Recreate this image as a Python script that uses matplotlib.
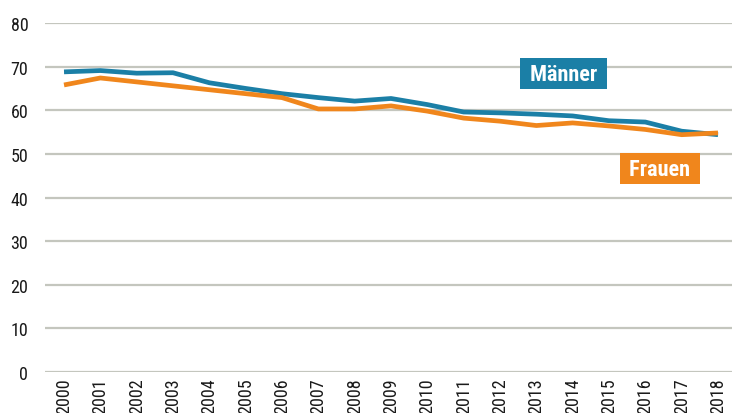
import matplotlib
matplotlib.use('Agg')
import matplotlib.pyplot as plt

#years and rates
years = list(range(2000, 2019))
maenner = [68.8, 69.1, 68.5, 68.6, 66.3, 65.0, 63.8, 62.9, 62.1, 62.7, 61.3, 59.6, 59.4, 59.1, 58.7, 57.6, 57.3, 55.2, 54.4]
frauen = [65.8, 67.4, 66.5, 65.6, 64.7, 63.8, 62.9, 60.3, 60.3, 61.0, 59.8, 58.2, 57.5, 56.5, 57.1, 56.4, 55.6, 54.4, 54.8]
yticks = [0, 10, 20, 30, 40, 50, 60, 70, 80]

blue = '#1b7fa6'
orange = '#f0861c'
gridc = '#c4c6be'

#condensed grotesk like the reference, fall back to DejaVu
plt.rcParams['font.family'] = ['Roboto Condensed', 'Archivo Narrow', 'DejaVu Sans']

fig = plt.figure(figsize=(7.32, 4.14), dpi=100)
ax = fig.add_axes([0.0615, 0.099, 0.9385, 0.843])

ax.plot(years, maenner, color=blue, linewidth=3.4, solid_capstyle='butt', zorder=3)
ax.plot(years, frauen, color=orange, linewidth=3.4, solid_capstyle='butt', zorder=3)

ax.set_xlim(1999.477, 2018.385)
ax.set_ylim(0, 80)
ax.set_yticks(yticks)
ax.set_xticks(years)
ax.set_xticklabels([str(y) for y in years], rotation=90, fontsize=13, color='#1a1a1a')
ax.set_yticklabels([str(v) for v in yticks], fontsize=13, color='#1a1a1a')
ax.tick_params(axis='both', length=0)
ax.tick_params(axis='y', pad=12)
ax.tick_params(axis='x', pad=4)

ax.grid(axis='y', color=gridc, linewidth=1.6, zorder=1)
ax.set_axisbelow(True)
for s in ax.spines.values():
    s.set_visible(False)

#series labels in coloured boxes
ax.text(2013.75, 68.4, ' Männer ', color='white', fontsize=16, fontweight='bold',
        ha='center', va='center', zorder=4,
        bbox=dict(boxstyle='square,pad=0.2', facecolor=blue, edgecolor='none'))
ax.text(2016.39, 46.65, ' Frauen ', color='white', fontsize=16, fontweight='bold',
        ha='center', va='center', zorder=4,
        bbox=dict(boxstyle='square,pad=0.2', facecolor=orange, edgecolor='none'))

fig.savefig('out.png', dpi=100)
